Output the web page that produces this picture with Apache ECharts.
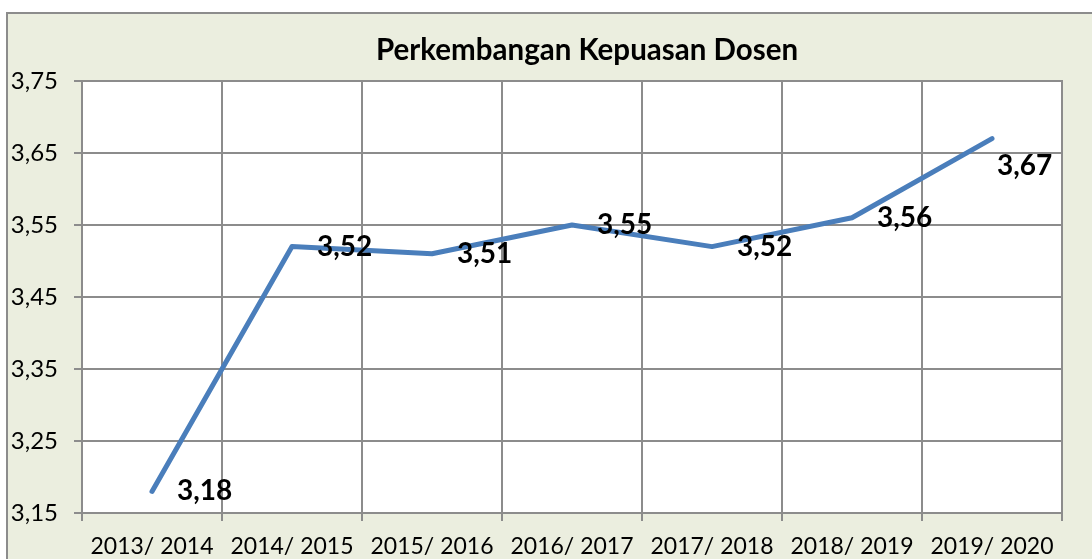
<!DOCTYPE html>
<html>
<head>
<meta charset="utf-8">
<script src="https://cdn.jsdelivr.net/npm/echarts@6/dist/echarts.min.js"></script>
<style>
	html, body { margin: 0; padding: 0; background: #ffffff; }
	#main { width: 1092px; height: 559px; }
</style>
</head>
<body>
<div id="main"></div>
<script>
var tahunAkademik = ['2013/ 2014', '2014/ 2015', '2015/ 2016', '2016/ 2017', '2017/ 2018', '2018/ 2019', '2019/ 2020'];
var nilaiKepuasan = [3.18, 3.52, 3.51, 3.55, 3.52, 3.56, 3.67];
var judul = 'Perkembangan Kepuasan Dosen';

function fmtKoma(v) {
	return v.toFixed(2).replace('.', ',');
}

var myChart = echarts.init(document.getElementById('main'));

// label titik data, yang terakhir di bawah titik
var dataPoints = [];
for (var i = 0; i < nilaiKepuasan.length; i++) {
	var item = { value: nilaiKepuasan[i] };
	if (i == nilaiKepuasan.length - 1) {
		item.label = { position: [6, 28], align: 'left', verticalAlign: 'middle' };
	}
	dataPoints.push(item);
}

var option = {
	backgroundColor : '#ffffff',
	textStyle : { fontFamily : 'Lato' },
	graphic : [ {
		type : 'rect',
		silent : true,
		z : -10,
		shape : { x : 7, y : 13, width : 1200, height : 700 },
		style : { fill : '#ebeedf', stroke : '#8c8c8c', lineWidth : 2 }
	} ],
	title : {
		text : judul,
		left : 371,
		top : 30,
		textStyle : {
			fontFamily : 'Lato',
			fontWeight : 'bold',
			fontSize : 29.5,
			color : '#000'
		}
	},
	grid : {
		left : 82,
		right : 30,
		top : 81,
		bottom : 46,
		show : true,
		backgroundColor : '#ffffff',
		borderColor : '#8c8c8c',
		borderWidth : 2
	},
	xAxis : {
		type : 'category',
		data : tahunAkademik,
		boundaryGap : true,
		axisLine : { lineStyle : { color : '#8c8c8c', width : 2 } },
		axisTick : { show : true, interval : 0, length : 8, lineStyle : { color : '#8c8c8c', width : 2 } },
		splitLine : { show : true, interval : 0, lineStyle : { color : '#8c8c8c', width : 2 } },
		axisLabel : { color : '#000', fontSize : 23, margin : 22, interval : 0, fontFamily : 'Lato' }
	},
	yAxis : {
		type : 'value',
		min : 3.15,
		max : 3.75,
		interval : 0.1,
		axisLine : { show : true, lineStyle : { color : '#8c8c8c', width : 2 } },
		axisTick : { show : true, length : 8, lineStyle : { color : '#8c8c8c', width : 2 } },
		splitLine : { show : true, lineStyle : { color : '#8c8c8c', width : 2 } },
		axisLabel : {
			color : '#000',
			fontSize : 24,
			margin : 24,
			fontFamily : 'Lato',
			formatter : function(v) { return fmtKoma(v); }
		}
	},
	series : [ {
		type : 'line',
		data : dataPoints,
		symbol : 'circle',
		symbolSize : 2,
		showSymbol : true,
		showAllSymbol : true,
		itemStyle : { color : 'rgba(74,126,187,0)' },
		lineStyle : { color : '#4a7ebb', width : 5, cap : 'round', join : 'round' },
		labelLayout : { hideOverlap : false },
		label : {
			show : true,
			position : 'right',
			distance : 24,
			offset : [0, 2],
			color : '#000',
			fontSize : 28,
			fontWeight : 'bold',
			fontFamily : 'Lato',
			formatter : function(p) { return fmtKoma(p.value); }
		}
	} ]
};
myChart.setOption(option);
</script>
</body>
</html>
